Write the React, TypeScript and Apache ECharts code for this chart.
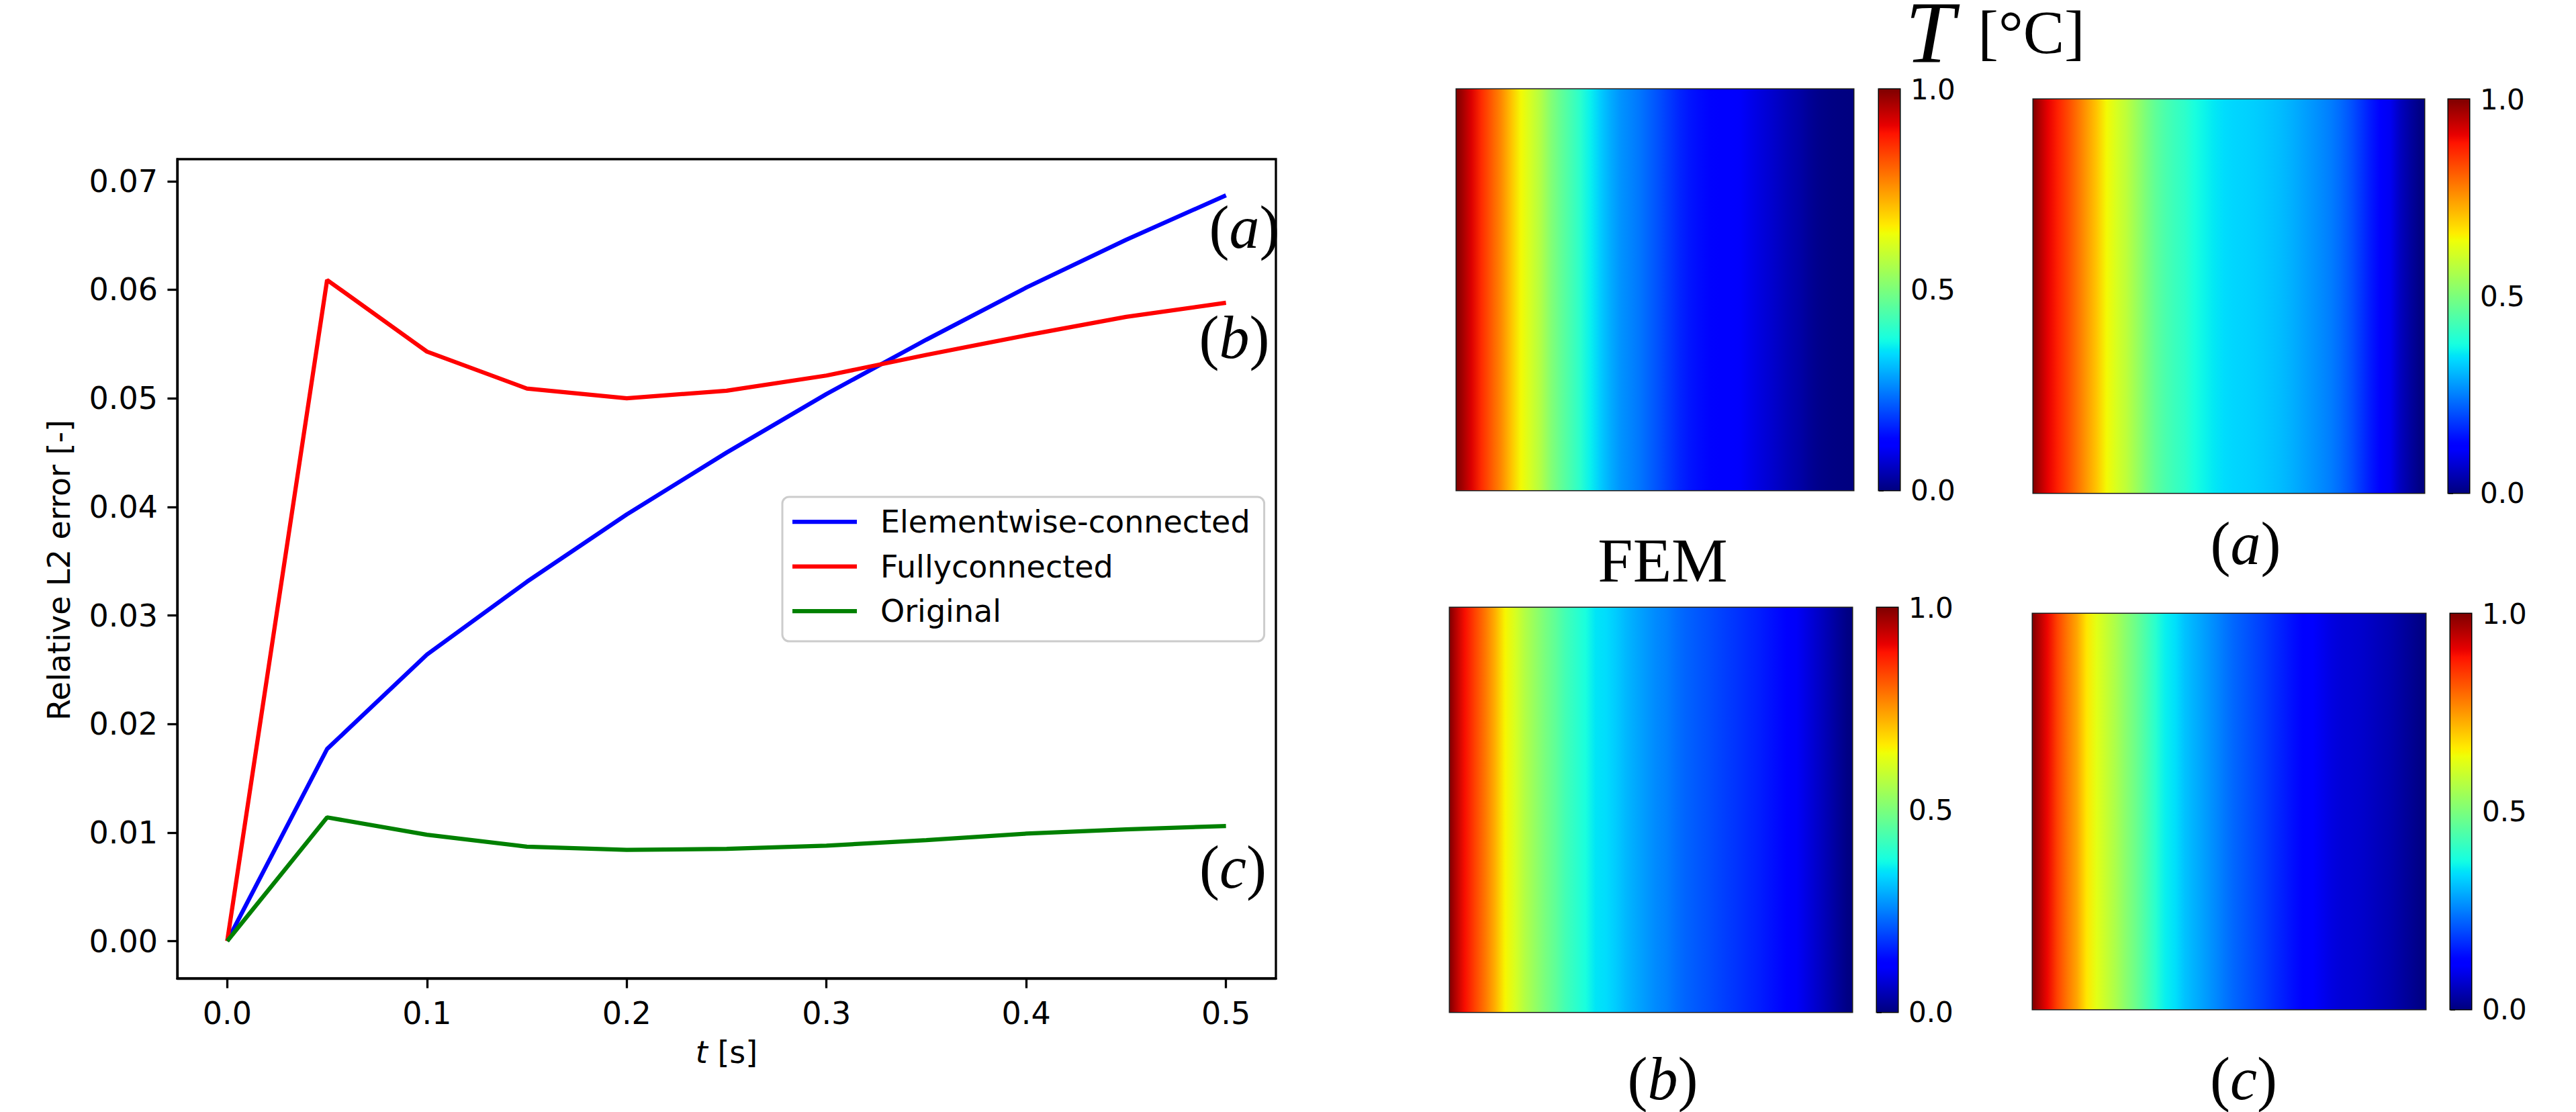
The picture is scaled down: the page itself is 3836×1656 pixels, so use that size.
import React, { useEffect, useRef } from "react";
import * as echarts from "echarts";

// ---------- Data: relative L2 error over time ----------
const timeSteps = [0, 0.05, 0.1, 0.15, 0.2, 0.25, 0.3, 0.35, 0.4, 0.45, 0.5];
const elementwiseError = [0, 0.0177, 0.0264, 0.0331, 0.0393, 0.045, 0.0504, 0.0554, 0.0602, 0.0646, 0.0687];
const fullyconnectedError = [0, 0.0609, 0.0543, 0.0509, 0.05, 0.0507, 0.0521, 0.054, 0.0558, 0.0575, 0.0588];
const originalError = [0, 0.0114, 0.0098, 0.0087, 0.0084, 0.0085, 0.0088, 0.0093, 0.0099, 0.0103, 0.0106];
const seriesNames = ["Elementwise-connected", "Fullyconnected", "Original"];
const xTicks = [0, 0.1, 0.2, 0.3, 0.4, 0.5];
const yTicks = [0, 0.01, 0.02, 0.03, 0.04, 0.05, 0.06, 0.07];

// ---------- Data: temperature profiles across the domain (left -> right) ----------
const femProfile = [
  0.975, 0.92, 0.865, 0.815, 0.765, 0.705, 0.645, 0.605, 0.565, 0.51,
  0.47, 0.435, 0.4, 0.36, 0.325, 0.295, 0.27, 0.255, 0.24, 0.22,
  0.2, 0.18, 0.16, 0.145, 0.135, 0.127, 0.12, 0.115, 0.108, 0.095,
  0.083, 0.071, 0.058, 0.045, 0.035, 0.02, 0.01, 0.005, 0.002, 0.0,
];
const profileA = [
  0.965, 0.91, 0.875, 0.835, 0.79, 0.745, 0.7, 0.645, 0.61, 0.58,
  0.54, 0.5, 0.465, 0.44, 0.42, 0.405, 0.38, 0.365, 0.352, 0.342,
  0.335, 0.332, 0.328, 0.322, 0.315, 0.307, 0.297, 0.285, 0.273, 0.26,
  0.247, 0.228, 0.205, 0.178, 0.15, 0.125, 0.1, 0.057, 0.03, 0.005,
];
const profileB = [
  0.96, 0.895, 0.84, 0.785, 0.725, 0.65, 0.61, 0.565, 0.53, 0.495,
  0.465, 0.43, 0.405, 0.38, 0.35, 0.342, 0.325, 0.305, 0.29, 0.275,
  0.26, 0.25, 0.235, 0.222, 0.212, 0.203, 0.194, 0.184, 0.175, 0.165,
  0.156, 0.146, 0.135, 0.123, 0.105, 0.085, 0.065, 0.045, 0.025, 0.005,
];
const profileC = [
  0.965, 0.905, 0.84, 0.785, 0.735, 0.665, 0.625, 0.59, 0.555, 0.515,
  0.48, 0.44, 0.4, 0.36, 0.345, 0.315, 0.298, 0.28, 0.262, 0.243,
  0.225, 0.211, 0.198, 0.184, 0.168, 0.153, 0.138, 0.123, 0.113, 0.097,
  0.083, 0.075, 0.071, 0.066, 0.058, 0.05, 0.042, 0.03, 0.018, 0.005,
];
// boundary temperatures at the left / right edges of each panel
const leftEdgeT = [1.0, 1.0, 1.0, 1.0];
const rightEdgeT = [0.0, 0.0, 0.0, 0.0];
const colorbarTicks = [0, 0.5, 1];
const panelLabels = ["FEM", "a", "b", "c"];
const curveLabels = ["a", "b", "c"];

// ---------- Colormap (matplotlib jet) ----------
function jet(v: number): string {
  const interp = (pts: number[][]) => {
    for (let i = 0; i < pts.length - 1; i++) {
      const [x0, y0] = pts[i];
      const [x1, y1] = pts[i + 1];
      if (v <= x1) return y0 + ((y1 - y0) * (v - x0)) / (x1 - x0);
    }
    return pts[pts.length - 1][1];
  };
  const r = interp([[0, 0], [0.35, 0], [0.66, 1], [0.89, 1], [1, 0.5]]);
  const g = interp([[0, 0], [0.125, 0], [0.375, 1], [0.64, 1], [0.91, 0], [1, 0]]);
  const b = interp([[0, 0.5], [0.11, 1], [0.34, 1], [0.65, 0], [1, 0]]);
  const h = (c: number) => Math.round(Math.max(0, Math.min(1, c)) * 255).toString(16).padStart(2, "0");
  return "#" + h(r) + h(g) + h(b);
}
const JET_SAMPLES = 101;

// ---------- Layout ----------
const panelProfiles = [femProfile, profileA, profileB, profileC];
const panelLayout = [
  { grid: { left: 2169, top: 133, width: 591, height: 597 }, bar: { left: 2798, top: 133, width: 31, height: 597 } },
  { grid: { left: 3028, top: 148, width: 582, height: 586 }, bar: { left: 3646, top: 148, width: 31, height: 586 } },
  { grid: { left: 2159, top: 905, width: 599, height: 602 }, bar: { left: 2795, top: 905, width: 31, height: 602 } },
  { grid: { left: 3027, top: 914, width: 585, height: 589 }, bar: { left: 3649, top: 914, width: 31, height: 589 } },
];
const panelLabelPos = [
  { x: 2476, y: 834 },
  { x: 3344, y: 809 },
  { x: 2476, y: 1606 },
  { x: 3341, y: 1606 },
];
const curveLabelPos = [
  { x: 1853, y: 338 },
  { x: 1838, y: 502 },
  { x: 1836, y: 1291 },
];

const SANS = "DejaVu Sans";
const SERIF = "Liberation Serif";

function mathLabel(letter: string, x: number, y: number, size: number) {
  return {
    type: "text",
    x,
    y,
    silent: true,
    style: {
      text: `{p|(}{i|${letter}}{p|)}`,
      align: "center",
      verticalAlign: "middle",
      fill: "#000",
      rich: {
        p: { fontFamily: SERIF, fontSize: size, lineHeight: 78, fill: "#000" },
        i: { fontFamily: SERIF, fontStyle: "italic", fontSize: size, lineHeight: 78, fill: "#000" },
      },
    },
  };
}

function buildOption() {
  const grids: any[] = [{ left: 264, top: 237, width: 1636, height: 1220, show: true, borderColor: "#000", borderWidth: 3.3, backgroundColor: "#fff" }];
  const xAxes: any[] = [
    {
      type: "value",
      gridIndex: 0,
      min: -0.025,
      max: 0.525,
      axisLine: { show: true, onZero: false, lineStyle: { color: "#000", width: 3.3 } },
      axisTick: { show: true, customValues: xTicks, length: 14.6, lineStyle: { color: "#000", width: 3.3 } },
      axisLabel: { customValues: xTicks, formatter: (v: number) => v.toFixed(1), fontFamily: SANS, fontSize: 46, color: "#000", margin: 29 },
      splitLine: { show: false },
    },
  ];
  const yAxes: any[] = [
    {
      type: "value",
      gridIndex: 0,
      min: -0.00343,
      max: 0.07203,
      axisLine: { show: true, onZero: false, lineStyle: { color: "#000", width: 3.3 } },
      axisTick: { show: true, customValues: yTicks, length: 14.6, lineStyle: { color: "#000", width: 3.3 } },
      axisLabel: { customValues: yTicks, formatter: (v: number) => v.toFixed(2), fontFamily: SANS, fontSize: 46, color: "#000", margin: 29 },
      splitLine: { show: false },
    },
  ];
  const lineColors = ["#0000ff", "#ff0000", "#008000"];
  const lineData = [elementwiseError, fullyconnectedError, originalError];
  const series: any[] = lineData.map((vals, k) => ({
    type: "line",
    name: seriesNames[k],
    xAxisIndex: 0,
    yAxisIndex: 0,
    data: timeSteps.map((t, i) => [t, vals[i]]),
    symbol: "none",
    showSymbol: false,
    lineStyle: { color: lineColors[k], width: 6.25 },
    itemStyle: { color: lineColors[k] },
    z: 3,
    silent: true,
  }));

  panelProfiles.forEach((profile, p) => {
    const L = panelLayout[p];
    const n = profile.length;
    const gPanel = grids.length;
    grids.push({ ...L.grid, show: true, borderColor: "#1a1a1a", borderWidth: 3, backgroundColor: "transparent" });
    const gBar = grids.length;
    grids.push({ ...L.bar, show: true, borderColor: "#000", borderWidth: 3, backgroundColor: "transparent" });

    const xPanel = xAxes.length;
    xAxes.push({ type: "value", gridIndex: gPanel, min: 0, max: n, show: false });
    const xBar = xAxes.length;
    xAxes.push({ type: "value", gridIndex: gBar, min: 0, max: 1, show: false });

    const yPanel = yAxes.length;
    yAxes.push({ type: "value", gridIndex: gPanel, min: 0, max: 1, show: false });
    const yBar = yAxes.length;
    yAxes.push({
      type: "value",
      gridIndex: gBar,
      position: "right",
      min: 0,
      max: 1,
      interval: 0.5,
      axisLine: { show: false },
      axisTick: { show: true, length: 7, lineStyle: { color: "#000", width: 2.5 } },
      axisLabel: { formatter: (v: number) => v.toFixed(1), fontFamily: SANS, fontSize: 42, color: "#000", margin: 16 },
      splitLine: { show: false },
    });

    // temperature field: columns of the profile, colour through the jet scale
    const stops = [
      { offset: 0, color: jet(leftEdgeT[p]) },
      ...profile.map((v, i) => ({ offset: (i + 0.5) / n, color: jet(v) })),
      { offset: 1, color: jet(rightEdgeT[p]) },
    ];
    series.push({
      type: "custom",
      xAxisIndex: xPanel,
      yAxisIndex: yPanel,
      data: [[0, 0, n, 1]],
      silent: true,
      renderItem: (_params: any, api: any) => {
        const tl = api.coord([api.value(0), api.value(3)]);
        const br = api.coord([api.value(2), api.value(1)]);
        return {
          type: "rect",
          shape: { x: tl[0], y: tl[1], width: br[0] - tl[0], height: br[1] - tl[1] },
          style: { fill: new echarts.graphic.LinearGradient(0, 0, 1, 0, stops) },
        };
      },
    });

    // colorbar
    const barStops = Array.from({ length: JET_SAMPLES }, (_, i) => ({
      offset: i / (JET_SAMPLES - 1),
      color: jet(colorbarTicks[0] + ((colorbarTicks[2] - colorbarTicks[0]) * i) / (JET_SAMPLES - 1)),
    }));
    series.push({
      type: "custom",
      xAxisIndex: xBar,
      yAxisIndex: yBar,
      data: [[0, colorbarTicks[0], 1, colorbarTicks[2]]],
      silent: true,
      renderItem: (_params: any, api: any) => {
        const tl = api.coord([api.value(0), api.value(3)]);
        const br = api.coord([api.value(2), api.value(1)]);
        return {
          type: "rect",
          shape: { x: tl[0], y: tl[1], width: br[0] - tl[0], height: br[1] - tl[1] },
          style: { fill: new echarts.graphic.LinearGradient(0, 1, 0, 0, barStops) },
        };
      },
    });
  });

  const graphics: any[] = [
    {
      type: "text",
      x: 88,
      y: 849,
      rotation: Math.PI / 2,
      silent: true,
      style: { text: "Relative L2 error [-]", fontFamily: SANS, fontSize: 46, fill: "#000", align: "center", verticalAlign: "middle" },
    },
    {
      type: "text",
      x: 1082,
      y: 1567,
      silent: true,
      style: {
        text: "{i|t} [s]",
        fontFamily: SANS,
        fontSize: 46,
        fill: "#000",
        align: "center",
        verticalAlign: "middle",
        rich: { i: { fontFamily: SANS, fontStyle: "italic", fontSize: 46, fill: "#000" } },
      },
    },
    ...curveLabelPos.map((pos, k) => mathLabel(curveLabels[k], pos.x, pos.y, 90)),
    {
      type: "text",
      x: 2874,
      y: 48,
      silent: true,
      style: { text: "T", fontFamily: SERIF, fontStyle: "italic", fontSize: 132, lineHeight: 90, fill: "#000", align: "center", verticalAlign: "middle" },
    },
    {
      type: "text",
      x: 3025,
      y: 48,
      silent: true,
      style: { text: "[°C]", fontFamily: SERIF, fontSize: 92, lineHeight: 90, fill: "#000", align: "center", verticalAlign: "middle" },
    },
    {
      type: "text",
      x: panelLabelPos[0].x,
      y: panelLabelPos[0].y,
      silent: true,
      style: { text: panelLabels[0], fontFamily: SERIF, fontSize: 94, lineHeight: 80, fill: "#000", align: "center", verticalAlign: "middle" },
    },
    ...panelLabels.slice(1).map((l, k) => mathLabel(l, panelLabelPos[k + 1].x, panelLabelPos[k + 1].y, 90)),
  ];

  return {
    animation: false,
    backgroundColor: "#ffffff",
    grid: grids,
    xAxis: xAxes,
    yAxis: yAxes,
    series,
    legend: {
      data: seriesNames,
      orient: "vertical",
      align: "left",
      left: 1165,
      top: 740,
      icon: "rect",
      itemWidth: 96,
      itemHeight: 6.25,
      itemGap: 20.5,
      padding: [14, 21, 22, 15],
      backgroundColor: "#ffffff",
      borderColor: "#cccccc",
      borderWidth: 3,
      borderRadius: 10,
      selectedMode: false,
      textStyle: { fontFamily: SANS, fontSize: 46, color: "#000", lineHeight: 46, padding: [0, 0, 0, 30] },
    },
    graphic: graphics,
  };
}

export default function App() {
  const ref = useRef<HTMLDivElement>(null);
  useEffect(() => {
    if (!ref.current) return;
    const chart = echarts.init(ref.current, undefined, { renderer: "svg" });
    chart.setOption(buildOption() as any);
    return () => chart.dispose();
  }, []);
  return (
    <div
      ref={ref}
      style={{ position: "absolute", left: 0, top: 0, width: 3836, height: 1656, background: "#fff" }}
    />
  );
}
